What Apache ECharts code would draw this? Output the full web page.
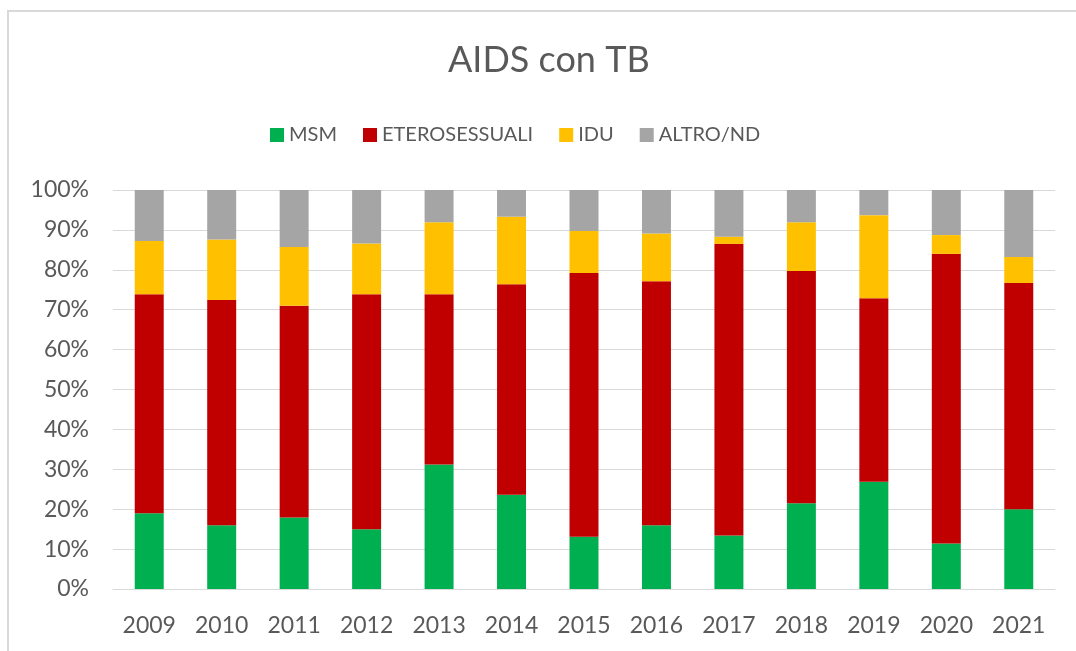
<!DOCTYPE html>
<html>
<head>
<meta charset="utf-8">
<script src="https://cdn.jsdelivr.net/npm/echarts@6/dist/echarts.min.js"></script>
<style>
  html, body { margin: 0; padding: 0; background: #fff; }
  #frame { position: absolute; left: 7px; top: 10px; width: 1100px; height: 700px;
           border-left: 2px solid #d9d9d9; border-top: 2px solid #d9d9d9; }
  #chart { position: absolute; left: 0; top: 0; width: 1076px; height: 651px; }
</style>
</head>
<body>
<div id="frame"></div>
<div id="chart"></div>
<script>
// anni
const years = ["2009", "2010", "2011", "2012", "2013", "2014", "2015", "2016", "2017", "2018", "2019", "2020", "2021"];

// quote percentuali
const msm = [19.0, 16.0, 17.9, 15.0, 31.2, 23.6, 13.1, 16.0, 13.4, 21.5, 26.9, 11.4, 20.0];
const etero = [54.9, 56.4, 53.1, 58.9, 42.7, 52.8, 66.1, 61.1, 73.1, 58.2, 46.0, 72.6, 56.7];
const idu = [13.3, 15.2, 14.7, 12.7, 18.0, 16.9, 10.5, 12.0, 1.8, 12.2, 20.8, 4.7, 6.5];
const altro = [12.8, 12.4, 14.3, 13.4, 8.1, 6.7, 10.3, 10.9, 11.7, 8.1, 6.3, 11.3, 16.8];

const yTicks = [0, 10, 20, 30, 40, 50, 60, 70, 80, 90, 100];

const font = "Lato, 'Open Sans', sans-serif";
const txt = "#595959";

const chart = echarts.init(document.getElementById("chart"));

const mkSerie = (name, data, color) => ({
  name,
  type: "bar",
  stack: "tot",
  data,
  barWidth: "40%",
  itemStyle: { color },
});

chart.setOption({
  animation: false,
  title: {
    text: "AIDS con TB",
    left: 443,
    top: 37,
    textStyle: { fontFamily: font, fontSize: 36, fontWeight: "normal", color: txt },
  },
  legend: {
    top: 120,
    left: 265,
    itemWidth: 14,
    itemHeight: 14,
    itemGap: 26,
    icon: "rect",
    textStyle: { fontFamily: font, fontSize: 20, color: txt },
    data: ["MSM", "ETEROSESSUALI", "IDU", "ALTRO/ND"],
  },
  grid: { left: 113, right: 21, top: 190, bottom: 62, containLabel: false },
  xAxis: {
    type: "category",
    data: years,
    axisTick: { show: false },
    axisLine: { lineStyle: { color: "#d9d9d9", width: 1 } },
    axisLabel: { fontFamily: font, fontSize: 23, color: txt, margin: 25 },
  },
  yAxis: {
    type: "value",
    min: 0,
    max: 100,
    interval: 10,
    axisLabel: {
      fontFamily: font,
      fontSize: 23,
      color: txt,
      margin: 24,
      formatter: (v) => (yTicks.includes(v) ? v + "%" : ""),
    },
    splitLine: { lineStyle: { color: "#d9d9d9", width: 1 } },
  },
  series: [
    mkSerie("MSM", msm, "#00b050"),
    mkSerie("ETEROSESSUALI", etero, "#c00000"),
    mkSerie("IDU", idu, "#ffc000"),
    mkSerie("ALTRO/ND", altro, "#a5a5a5"),
  ],
});

window.addEventListener("resize", () => chart.resize());
</script>
</body>
</html>
